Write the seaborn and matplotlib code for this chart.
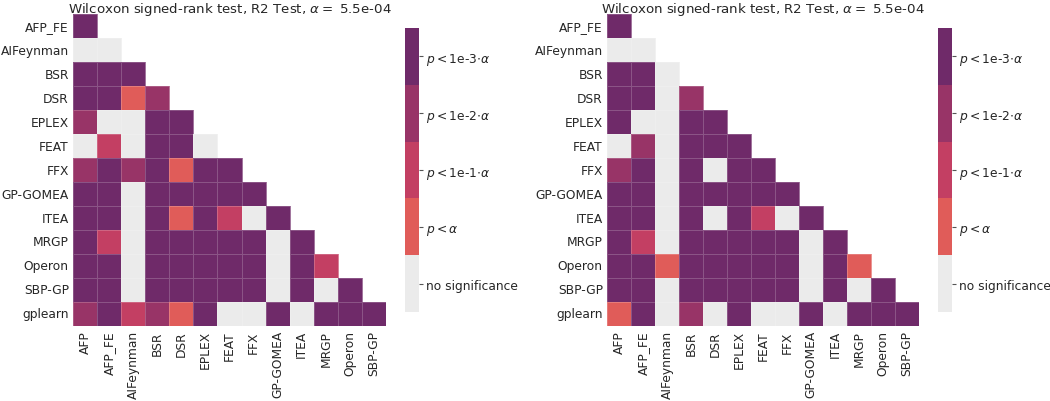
import numpy as np
import pandas as pd
import matplotlib
matplotlib.use("Agg")
import matplotlib.pyplot as plt
from matplotlib.colors import ListedColormap
import seaborn as sns

sns.set_style("white")
plt.rcParams["font.family"] = ["DejaVu Sans"]

col_names = ["AFP", "AFP_FE", "AIFeynman", "BSR", "DSR", "EPLEX", "FEAT", "FFX",
             "GP-GOMEA", "ITEA", "MRGP", "Operon", "SBP-GP"]
row_names = ["AFP_FE", "AIFeynman", "BSR", "DSR", "EPLEX", "FEAT", "FFX",
             "GP-GOMEA", "ITEA", "MRGP", "Operon", "SBP-GP", "gplearn"]

# 0 = no significance, 1 = p<a, 2 = p<1e-1 a, 3 = p<1e-2 a, 4 = p<1e-3 a
left_levels = [
    [4],
    [0, 0],
    [4, 4, 4],
    [4, 4, 1, 3],
    [3, 0, 0, 4, 4],
    [0, 2, 0, 4, 4, 0],
    [3, 4, 3, 4, 1, 4, 4],
    [4, 4, 0, 4, 4, 4, 4, 4],
    [4, 4, 0, 4, 1, 4, 2, 0, 4],
    [4, 2, 0, 4, 4, 4, 4, 4, 0, 4],
    [4, 4, 0, 4, 4, 4, 4, 4, 0, 4, 2],
    [4, 4, 0, 4, 4, 4, 4, 4, 0, 4, 0, 4],
    [3, 4, 2, 3, 1, 4, 0, 0, 4, 0, 4, 4, 4],
]
right_levels = [
    [4],
    [0, 0],
    [4, 4, 0],
    [4, 4, 0, 3],
    [4, 0, 0, 4, 4],
    [0, 3, 0, 4, 4, 4],
    [3, 4, 0, 4, 0, 4, 4],
    [4, 4, 0, 4, 4, 4, 4, 4],
    [4, 4, 0, 4, 0, 4, 2, 0, 4],
    [4, 2, 0, 4, 4, 4, 4, 4, 0, 4],
    [4, 4, 1, 4, 4, 4, 4, 4, 0, 4, 1],
    [4, 4, 0, 4, 4, 4, 4, 4, 0, 4, 0, 4],
    [1, 4, 0, 3, 0, 4, 0, 0, 4, 0, 4, 4, 4],
]
cbar_labels = ["no significance", r"$p<\alpha$", r"$p<$1e-1$\cdot\alpha$",
               r"$p<$1e-2$\cdot\alpha$", r"$p<$1e-3$\cdot\alpha$"]
title = r"Wilcoxon signed-rank test, R2 Test, $\alpha=$ 5.5e-04"

colors = ["#ebebeb", "#e05c59", "#c33f63", "#983467", "#6f2a69"]
cmap = ListedColormap(colors)


def to_frame(levels):
    n = len(col_names)
    arr = np.full((len(row_names), n), np.nan)
    for i, row in enumerate(levels):
        arr[i, :len(row)] = row
    return pd.DataFrame(arr, index=row_names, columns=col_names)


fig = plt.figure(figsize=(10.5, 4.02), dpi=100)
panels = [
    (left_levels, [0.0695, 0.1866, 0.2981, 0.776], [0.3857, 0.221, 0.0136, 0.707]),
    (right_levels, [0.5781, 0.1866, 0.2971, 0.776], [0.8933, 0.221, 0.0136, 0.707]),
]

for levels, ax_pos, cb_pos in panels:
    ax = fig.add_axes(ax_pos)
    cax = fig.add_axes(cb_pos)
    df = to_frame(levels)
    sns.heatmap(df, ax=ax, cbar_ax=cax, cmap=cmap, vmin=-0.5, vmax=4.5,
                linewidths=0.5, linecolor=(1, 1, 1, 0.2),
                cbar_kws={"ticks": [0, 1, 2, 3, 4]})
    ax.set_title(title, fontsize=9.6, pad=1.5)
    ax.tick_params(axis="both", length=0, labelsize=8.8, pad=3)
    ax.set_xticklabels(col_names, rotation=90)
    ax.set_yticklabels(row_names, rotation=0)
    cax.set_yticklabels(cbar_labels, fontsize=8.8)
    cax.tick_params(length=3, width=0.8, color="#555555", pad=2)

fig.savefig("out.png", dpi=100)
